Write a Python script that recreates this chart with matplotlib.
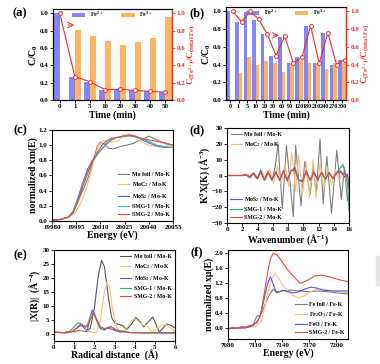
import numpy as np
import matplotlib
matplotlib.use('Agg')
import matplotlib.pyplot as plt
from matplotlib.patches import Rectangle

plt.rcParams['font.family'] = ['Liberation Serif', 'DejaVu Serif']
plt.rcParams['font.weight'] = 'bold'
plt.rcParams['axes.labelweight'] = 'bold'
plt.rcParams['mathtext.fontset'] = 'custom'
plt.rcParams['mathtext.rm'] = 'Liberation Serif:bold'
plt.rcParams['mathtext.it'] = 'Liberation Serif:italic:bold'
plt.rcParams['mathtext.bf'] = 'Liberation Serif:bold'
plt.rcParams['axes.linewidth'] = 0.8

# ---------------- data ----------------
# (a)
a_times = ['0', '1', '5', '10', '20', '30', '40', '50']
a_fe2 = [1.0, 0.27, 0.205, 0.115, 0.125, 0.11, 0.10, 0.09]
a_fe3 = [0.0, 0.81, 0.74, 0.685, 0.64, 0.665, 0.715, 0.955]
a_ratio = [1.0, 0.27, 0.21, 0.12, 0.125, 0.11, 0.10, 0.09]

# (b)
b_times = ['0', '1', '5', '10', '20', '30', '60', '90', '120', '180', '210', '240', '270', '300']
b_fe2 = [1.0, 0.885, 0.99, 0.90, 0.74, 0.50, 0.715, 0.42, 0.48, 0.83, 0.415, 0.755, 0.40, 0.45]
b_fe3 = [0.0, 0.30, 0.49, 0.40, 0.445, 0.42, 0.32, 0.42, 0.45, 0.42, 0.415, 0.35, 0.415, 0.42]
b_ratio = [1.0, 0.885, 1.0, 0.91, 0.74, 0.50, 0.72, 0.42, 0.48, 0.84, 0.415, 0.76, 0.40, 0.455]

# (c) Mo K-edge XANES
c_labels = ['Mo foil / Mo-K', 'MoC$_2$ / Mo-K', 'MoS$_2$ / Mo-K', 'SMG-1 / Mo-K', 'SMG-2 / Mo-K']
c_e_foil = [19980, 19985, 19990, 19993, 19996, 19999, 20002, 20005, 20008, 20010, 20012, 20015, 20018,
            20022, 20026, 20030, 20035, 20040, 20045, 20050, 20055]
c_y_foil = [0.01, 0.02, 0.05, 0.12, 0.25, 0.40, 0.55, 0.75, 0.98, 1.04, 1.02, 0.96, 0.95,
            0.98, 1.0, 1.02, 1.07, 1.12, 1.07, 1.02, 1.0]
c_e_moc = [19980, 19985, 19990, 19994, 19997, 20000, 20003, 20006, 20009, 20012, 20015, 20018, 20021,
           20024, 20027, 20030, 20035, 20040, 20045, 20050, 20055]
c_y_moc = [0.01, 0.02, 0.04, 0.10, 0.20, 0.35, 0.55, 0.80, 1.0, 1.06, 1.05, 1.04, 1.05,
           1.12, 1.15, 1.13, 1.05, 1.0, 0.98, 0.98, 1.0]
c_e_mos = [19980, 19985, 19990, 19993, 19996, 19999, 20002, 20005, 20008, 20011, 20014, 20017, 20020,
           20024, 20028, 20032, 20036, 20040, 20045, 20050, 20055]
c_y_mos = [0.01, 0.02, 0.05, 0.12, 0.30, 0.50, 0.68, 0.80, 0.88, 0.95, 1.02, 1.07, 1.10,
           1.12, 1.13, 1.12, 1.07, 1.03, 0.99, 0.97, 0.97]
c_y_smg1 = [0.01, 0.02, 0.05, 0.12, 0.28, 0.47, 0.65, 0.78, 0.87, 0.96, 1.03, 1.08, 1.10,
            1.11, 1.12, 1.11, 1.08, 1.05, 1.0, 0.98, 0.97]
c_y_smg2 = [0.01, 0.02, 0.05, 0.10, 0.25, 0.45, 0.62, 0.78, 0.90, 1.0, 1.06, 1.09, 1.10,
            1.12, 1.13, 1.11, 1.09, 1.07, 1.05, 1.03, 1.0]

# (d) k^3-weighted EXAFS
d_k_foil = [0, 1, 2, 2.6, 3.0, 3.4, 3.9, 4.4, 4.9, 5.4, 5.9, 6.3, 6.7, 7.25, 7.8, 8.7, 9.0, 9.7,
            10.2, 10.9, 11.3, 11.7, 12.2, 12.6, 13.1, 13.7, 14.4, 15.0, 15.4, 15.8, 16]
d_y_foil = [0, 0, 0, 0.5, -0.5, 1.5, -2, 2.5, -3, 3, -3, 5, 20, -21, 19, -26, 19, -19,
            9, -12, 6, -12, 23, -18, 12, -24, 16, -15, 5, -16, -10]
d_k_moc = [0, 2, 2.6, 3.1, 3.6, 4.1, 4.6, 5.1, 5.6, 6.1, 6.6, 7.1, 7.6, 8.1, 8.5, 9.0, 9.4, 9.9,
           10.4, 10.8, 11.3, 11.7, 12.2, 12.7, 13.2, 13.7, 14.2, 14.7, 15.2, 15.6, 16]
d_y_moc = [0, 0, 1, -1, 1.5, -2, 3, -3, 4, -5, 6, -6, 8, -7, 15, -10, 13, -12,
           8, -14, 10, -14, 8, -8, 5, -6, 4, -3, 2, -2, -10]
d_k_s = [0, 2, 2.5, 3.0, 3.5, 4.0, 4.4, 4.9, 5.4, 5.9, 6.4, 6.9, 7.4, 7.9, 8.4, 8.9, 9.4, 9.9,
         10.4, 10.9, 11.4, 11.9, 12.4, 12.9, 13.4, 13.9, 14.4, 14.9, 15.4, 15.8, 16]
d_y_mos = [0, 0, 0.5, -1.5, 1.5, -2, 3.5, -3, 2, -3, 2.5, -3, 3, -3.5, 3, 5, -3, -4,
           3, -3, 2, -3, 2, -2.5, 2, -2, 2, 3, -1, 1, -8]
d_y_smg2 = [0, 0, 0.3, -1, 1, -2, 2.5, -2.5, 2, -2.5, 2, -3, 2.5, -2.5, 3, 3.5, -3, -3.5,
            2.5, -3, 2, -2.5, 2, -2, 1.5, -2, 1.5, 2, 1, -1, -5]
d_k_smg1 = [0, 2, 2.5, 3.0, 3.5, 4.0, 4.4, 4.9, 5.4, 5.9, 6.4, 6.9, 7.4, 7.9, 8.4, 8.9, 9.4, 9.9,
            10.4, 10.9, 11.4, 11.9, 12.4, 12.9, 13.4, 13.9, 14.4, 14.9, 15.2, 15.5, 15.8, 16]
d_y_smg1 = [0, 0, 0.5, -1, 1.5, -2, 2.5, -2.5, 2, -3, 2, -3, 3, -3, 3, 4, -3, -3,
            2.5, -3, 2, -3, 2, -2.5, 2, -2, 2, 5, 7, 2, -5, -22]

# (e) Fourier transform
e_r_foil = [0, 0.3, 0.6, 1.0, 1.3, 1.6, 1.8, 2.0, 2.2, 2.36, 2.5, 2.7, 2.85, 3.0, 3.2, 3.4, 3.6,
            3.8, 4.05, 4.25, 4.45, 4.65, 4.9, 5.05, 5.22, 5.4, 5.58, 5.8, 6.0]
e_y_foil = [0.5, 0.5, 0.3, 0.8, 1.2, 0.8, 2, 9, 21, 26.3, 24, 13, 6, 4, 3.3, 3, 1.5,
            3, 5.8, 4.5, 2.5, 4, 6, 3.5, 0.5, 2, 3.5, 3, 2]
e_r_moc = [0, 0.5, 1.0, 1.3, 1.6, 1.9, 2.1, 2.3, 2.5, 2.62, 2.75, 2.9, 3.1, 3.3, 3.5, 3.7, 3.9,
           4.05, 4.25, 4.45, 4.65, 4.85, 5.05, 5.3, 5.55, 5.8, 6.0]
e_y_moc = [0.5, 0.3, 0.5, 1, 1.2, 0.5, 0.3, 5, 15, 18.5, 17, 9, 2.5, 0.3, 1, 3, 5,
           5.3, 4, 3, 2.5, 0.7, 1.5, 3, 3.3, 2, 0.8]
e_r_mos = [0, 0.5, 0.9, 1.1, 1.3, 1.5, 1.65, 1.8, 1.9, 2.0, 2.15, 2.3, 2.5, 2.7, 2.9, 3.1, 3.3,
           3.5, 3.8, 4.2, 4.6, 5.0, 5.5, 6.0]
e_y_mos = [0.5, 0.4, 0.8, 2, 3.3, 2, 1.2, 6, 8.5, 7.5, 4, 1.8, 1.5, 2, 1.5, 1, 0.7,
           0.8, 0.4, 0.4, 0.3, 0.4, 0.3, 0.3]
e_r_smg1 = [0, 0.5, 0.8, 1.0, 1.2, 1.4, 1.55, 1.7, 1.85, 1.95, 2.1, 2.3, 2.5, 2.7, 2.85, 3.0, 3.2,
            3.4, 3.7, 4.0, 4.5, 5.0, 5.5, 6.0]
e_y_smg1 = [0.5, 0.4, 1, 2.5, 3.9, 3.5, 2.2, 4, 7.2, 7.5, 5, 2, 1.3, 2.2, 2.5, 1.5, 1.2,
            1, 0.5, 0.4, 0.3, 0.4, 0.3, 0.3]
e_r_smg2 = [0, 0.5, 0.9, 1.1, 1.35, 1.5, 1.65, 1.8, 1.95, 2.1, 2.3, 2.5, 2.7, 2.85, 3.0, 3.2,
            3.5, 3.8, 4.2, 4.6, 5.0, 5.5, 6.0]
e_y_smg2 = [0.5, 0.4, 0.8, 1.8, 3, 2.8, 2.5, 5, 7.3, 5.5, 2.5, 1.8, 2.4, 2.5, 1.8, 1,
            0.6, 0.4, 0.4, 0.3, 0.3, 0.3, 0.3]

# (f) Fe K-edge XANES
f_labels = ['Fe foil / Fe-K', 'Fe$_2$O$_3$ / Fe-K', 'FeO / Fe-K', 'SMG-2 / Fe-K']
f_e_foil = [7080, 7100, 7108, 7111, 7113, 7115, 7118, 7122, 7126, 7130, 7134, 7140, 7150, 7160,
            7170, 7180, 7190, 7200, 7213]
f_y_foil = [0, 0.02, 0.1, 0.28, 0.35, 0.32, 0.45, 0.7, 0.9, 1.05, 0.95, 1.0, 1.02, 1.0,
            0.98, 1.0, 0.98, 0.95, 0.92]
f_e_fe2o3 = [7080, 7100, 7110, 7114, 7117, 7120, 7124, 7128, 7132, 7136, 7140, 7146, 7152, 7158,
             7164, 7170, 7178, 7186, 7195, 7205, 7213]
f_y_fe2o3 = [0, 0.02, 0.05, 0.12, 0.2, 0.5, 0.95, 1.3, 1.47, 1.35, 1.18, 1.0, 0.88, 0.82,
             0.86, 0.96, 1.05, 1.05, 1.0, 0.97, 0.95]
f_e_feo = [7080, 7100, 7108, 7112, 7115, 7118, 7121, 7124, 7127, 7130, 7133, 7137, 7141, 7146,
           7152, 7158, 7165, 7172, 7178, 7185, 7195, 7205, 7213]
f_y_feo = [0, 0.02, 0.08, 0.18, 0.3, 0.55, 0.9, 1.2, 1.37, 1.2, 0.98, 0.98, 1.02, 0.98,
           0.95, 0.97, 1.05, 1.1, 1.08, 1.02, 1.0, 1.0, 1.0]
f_e_smg = [7080, 7085, 7090, 7095, 7100, 7104, 7108, 7112, 7116, 7120, 7124, 7127, 7130, 7134,
           7138, 7145, 7152, 7160, 7168, 7176, 7184, 7192, 7200, 7206, 7213]
f_y_smg = [-0.02, 0.03, 0.01, 0.05, 0.04, 0.08, 0.1, 0.15, 0.35, 0.9, 1.5, 1.85, 2.0, 1.97,
           1.85, 1.6, 1.4, 1.2, 1.28, 1.4, 1.42, 1.38, 1.32, 1.28, 1.25]

# ---------------- style ----------------
BLUE = '#8585F5'
ORANGE = '#FDB462'
RED = '#EE2C2C'
GREY = '#7F7F7F'
C_ORANGE = '#F5C27A'
C_BLUE = '#5555E8'
C_GREEN = '#33B070'
C_RED = '#E84848'
TS = 5.0
LS = 7.0

fig = plt.figure(figsize=(3.8, 3.64), dpi=100)


def px_axes(x0, y0, x1, y1):
    return fig.add_axes([x0 / 380, 1 - y1 / 364, (x1 - x0) / 380, (y1 - y0) / 364])


def style(ax):
    ax.tick_params(labelsize=TS, length=2, width=0.6, pad=1.2)
    for lab in ax.get_xticklabels() + ax.get_yticklabels():
        lab.set_fontweight('bold')


ratio_label = 'C$_{\\mathrm{(Fe^{2+})}}$/C$_{\\mathrm{(total\\ Fe)}}$'


def bar_panel(ax, times, fe2, fe3, ratio, shift, arrow):
    x = np.arange(len(times))
    ax.bar(x - 0.21, fe2, 0.42, color=BLUE, label='Fe$^{2+}$')
    ax.bar(x + 0.21, fe3, 0.42, color=ORANGE, label='Fe$^{3+}$')
    ax.set_xlim(-0.45, len(times) - 0.55)
    ax.set_ylim(0, 1.05)
    ax.set_xticks(x)
    ax.set_xticklabels(times)
    ax.set_yticks(np.arange(0, 1.01, 0.2))
    ax.set_yticklabels(['%.1f' % v for v in np.arange(0, 1.01, 0.2)])
    ax.set_xlabel('Time (min)', fontsize=LS, labelpad=0.5)
    ax.set_ylabel('C/C$_0$', fontsize=LS, labelpad=0)
    ax.legend(loc='upper center', ncol=2, frameon=False, fontsize=4.3,
              handlelength=2.2, handleheight=0.6, columnspacing=3.0,
              bbox_to_anchor=(0.5, 1.03), borderaxespad=0.2)
    style(ax)
    ax2 = ax.twinx()
    ax2.plot(x + shift, ratio, '-o', color=RED, lw=0.8, ms=2.8, mfc='white', mew=0.7)
    ax2.set_ylim(0, 1.05)
    ax2.set_yticks(np.arange(0, 1.01, 0.2))
    ax2.set_yticklabels(['%.1f' % v for v in np.arange(0, 1.01, 0.2)])
    ax2.spines['right'].set_color(RED)
    ax2.spines['right'].set_linewidth(1.0)
    ax2.tick_params(axis='y', colors=RED)
    ax2.set_ylabel(ratio_label, color=RED, fontsize=6.6, labelpad=0.5)
    style(ax2)
    ax2.annotate('', xy=(arrow[1], arrow[2]), xytext=(arrow[0], arrow[2]),
                 arrowprops=dict(arrowstyle='->', color=RED, lw=0.7))
    return ax2


# (a)
ax_a = px_axes(53, 9, 172, 100)
bar_panel(ax_a, a_times, a_fe2, a_fe3, a_ratio, 0.0, (0.35, 1.15, 0.865))

# (b)
ax_b = px_axes(226, 7, 346, 100)
bar_panel(ax_b, b_times, b_fe2, b_fe3, b_ratio, 0.35, (4.7, 6.0, 0.73))
ax_b.tick_params(axis='x', labelsize=4.4)

# (c)
ax_c = px_axes(52, 130, 173, 221)
ax_c.plot(c_e_foil, c_y_foil, color=GREY, lw=0.8, label=c_labels[0])
ax_c.plot(c_e_moc, c_y_moc, color=C_ORANGE, lw=0.8, label=c_labels[1])
ax_c.plot(c_e_mos, c_y_mos, color=C_BLUE, lw=0.8, label=c_labels[2])
ax_c.plot(c_e_mos, c_y_smg1, color='#3CBFA0', lw=0.8, label=c_labels[3])
ax_c.plot(c_e_mos, c_y_smg2, color=C_RED, lw=0.8, label=c_labels[4])
ax_c.set_xlim(19980, 20055)
ax_c.set_ylim(0, 1.2)
ax_c.set_xticks([19980, 19995, 20010, 20025, 20040, 20055])
ax_c.set_yticks(np.arange(0, 1.21, 0.2))
ax_c.set_yticklabels(['%.1f' % v for v in np.arange(0, 1.21, 0.2)])
ax_c.set_xlabel('Energy (eV)', fontsize=LS, labelpad=0)
ax_c.set_ylabel('normalized xm(E)', fontsize=LS, labelpad=0.5)
ax_c.legend(loc='lower right', frameon=False, fontsize=4.2, handlelength=2.0,
            labelspacing=0.55, borderaxespad=0.2, handletextpad=0.4)
style(ax_c)

# (d)
ax_d = px_axes(227, 128, 349, 223)
l1, = ax_d.plot(d_k_foil, d_y_foil, color=GREY, lw=0.8, label=c_labels[0])
l2, = ax_d.plot(d_k_moc, d_y_moc, color=C_ORANGE, lw=0.8, label=c_labels[1])
l3, = ax_d.plot(d_k_s, d_y_mos, color=C_BLUE, lw=0.8, label=c_labels[2])
l4, = ax_d.plot(d_k_smg1, d_y_smg1, color=C_GREEN, lw=0.8, label=c_labels[3])
l5, = ax_d.plot(d_k_s, d_y_smg2, color=C_RED, lw=0.8, label=c_labels[4])
ax_d.set_xlim(0, 16)
ax_d.set_ylim(-30, 30)
ax_d.set_xticks(range(0, 17, 2))
ax_d.set_yticks(range(-30, 31, 10))
ax_d.set_xlabel('Wavenumber (Å$^{-1}$)', fontsize=LS, labelpad=0)
ax_d.set_ylabel('K$^3$X(K) (Å$^{-3}$)', fontsize=LS, labelpad=0)
leg1 = ax_d.legend(handles=[l1, l2], loc='upper left', frameon=False, fontsize=4.2,
                   handlelength=2.0, labelspacing=0.55, borderaxespad=0.2, handletextpad=0.4)
ax_d.add_artist(leg1)
ax_d.legend(handles=[l3, l4, l5], loc='lower left', frameon=False, fontsize=4.2,
            handlelength=2.0, labelspacing=0.55, borderaxespad=0.1, handletextpad=0.4)
style(ax_d)

# (e)
ax_e = px_axes(54, 250, 175, 341)
ax_e.plot(e_r_foil, e_y_foil, color='#555555', lw=0.8, label=c_labels[0])
ax_e.plot(e_r_moc, e_y_moc, color=C_ORANGE, lw=0.8, label=c_labels[1])
ax_e.plot(e_r_mos, e_y_mos, color=C_BLUE, lw=0.8, label=c_labels[2])
ax_e.plot(e_r_smg1, e_y_smg1, color=C_GREEN, lw=0.8, label=c_labels[3])
ax_e.plot(e_r_smg2, e_y_smg2, color=C_RED, lw=0.8, label=c_labels[4])
ax_e.set_xlim(0, 6)
ax_e.set_ylim(-2.6, 30)
ax_e.set_xticks(range(0, 7))
ax_e.set_yticks(range(0, 31, 5))
ax_e.set_xlabel('Radical distance  (Å)', fontsize=LS, labelpad=0)
ax_e.set_ylabel('|X(R)|  (Å$^{-4}$)', fontsize=LS, labelpad=0.5)
ax_e.legend(loc='upper right', frameon=False, fontsize=4.2, handlelength=2.0,
            labelspacing=0.55, borderaxespad=0.2, handletextpad=0.4)
style(ax_e)

# (f)
ax_f = px_axes(228, 250, 348, 339)
ax_f.plot(f_e_foil, f_y_foil, color=GREY, lw=0.8, label=f_labels[0])
ax_f.plot(f_e_fe2o3, f_y_fe2o3, color=C_ORANGE, lw=0.8, label=f_labels[1])
ax_f.plot(f_e_feo, f_y_feo, color=C_BLUE, lw=0.8, label=f_labels[2])
ax_f.plot(f_e_smg, f_y_smg, color=C_RED, lw=0.8, label=f_labels[3])
ax_f.set_xlim(7080, 7213)
ax_f.set_ylim(-0.28, 2.09)
ax_f.set_xticks([7080, 7110, 7140, 7170, 7200])
ax_f.set_yticks(np.arange(0, 2.01, 0.4))
ax_f.set_yticklabels(['%.1f' % v for v in np.arange(0, 2.01, 0.4)])
ax_f.set_xlabel('Energy (eV)', fontsize=LS, labelpad=0)
ax_f.set_ylabel('normalized xμ(E)', fontsize=LS, labelpad=0.5)
ax_f.legend(loc='lower right', frameon=False, fontsize=4.2, handlelength=2.0,
            labelspacing=0.55, borderaxespad=0.2, handletextpad=0.4)
style(ax_f)

# panel letters
for lab, (px, py) in zip(['(a)', '(b)', '(c)', '(d)', '(e)', '(f)'],
                         [(20, 13), (197, 13), (20, 130), (197, 130), (20, 255), (197, 252)]):
    fig.text(px / 380, 1 - py / 364, lab, fontsize=9, fontweight='bold', ha='center', va='center')

# light grey scrap at the right edge of the page
fig.patches.append(Rectangle((376 / 380, 1 - 285 / 364), 4 / 380, 29 / 364,
                             transform=fig.transFigure, color='#E6E6E6', zorder=0))

fig.savefig('out.png', dpi=100)
